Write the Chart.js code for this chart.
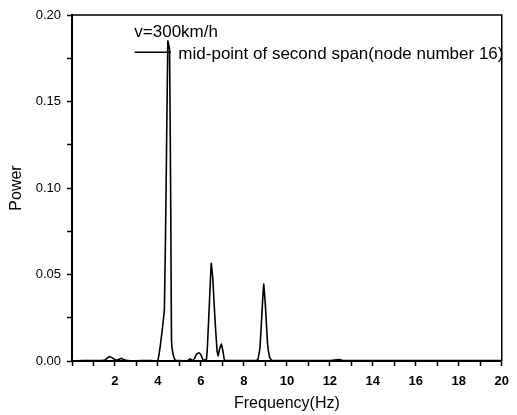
<!DOCTYPE html>
<html>
<head>
<meta charset="utf-8">
<script src="https://cdn.jsdelivr.net/npm/chart.js@4/dist/chart.umd.min.js"></script>
<style>
    html, body { margin: 0; padding: 0; background: #fff; }
    #wrap { width: 517px; height: 415px; }
</style>
</head>
<body>
<div id="wrap"><canvas id="spectrum"></canvas></div>
<script>
// 周波数 (Hz) とパワー
const freq = [0.0, 0.5, 1.0, 1.5, 1.65, 1.77, 1.9, 2.05, 2.2, 2.3, 2.4, 2.6, 3.0, 3.5, 3.9,
    4.0, 4.1, 4.2, 4.3, 4.38, 4.46, 4.54, 4.6, 4.63, 4.7, 4.8, 5.0, 5.4, 5.5, 5.6, 5.7, 5.8,
    5.9, 6.0, 6.1, 6.25, 6.3, 6.4, 6.48, 6.55, 6.65, 6.75, 6.8, 6.87, 6.95, 7.02, 7.1, 7.5,
    8.0, 8.5, 8.65, 8.75, 8.85, 8.92, 9.0, 9.1, 9.2, 9.3, 10, 11, 12, 12.3, 12.45, 12.6, 14,
    16, 18, 20];
const power = [0.0, 0.0003, 0.0002, 0.0004, 0.0018, 0.0025, 0.0016, 0.0004, 0.0010, 0.0016, 0.0008, 0.0002, 0.0001, 0.0003, 0.0001,
    0.0005, 0.008, 0.018, 0.03, 0.10, 0.185, 0.18, 0.08, 0.012, 0.004, 0.0005, 0.0002, 0.0003, 0.0012, 0.0004, 0.0015, 0.0040,
    0.0048, 0.0035, 0.0005, 0.0008, 0.008, 0.035, 0.0565, 0.048, 0.025, 0.006, 0.003, 0.007, 0.0098, 0.006, 0.0005, 0.0002,
    0.0003, 0.0002, 0.0008, 0.008, 0.03, 0.0445, 0.032, 0.010, 0.002, 0.0003, 0.0002, 0.0002, 0.0003, 0.0007, 0.0008, 0.0003, 0.0002,
    0.0002, 0.0003, 0.0002];
const speedLabel = "v=300km/h";
const seriesLabel = "mid-point of second span(node number 16)";
const xTitle = "Frequency(Hz)";
const yTitle = "Power";

const FONT = "'Liberation Sans', Arial, sans-serif";

let points = [];
for (let i = 0; i < freq.length; i++) {
    points.push({ x: freq[i], y: power[i] });
}

// 枠と凡例を描く
const framePlugin = {
    id: "frame",
    afterDraw(chart) {
        const ctx = chart.ctx;
        const a = chart.chartArea;
        ctx.save();
        ctx.strokeStyle = "#000";
        ctx.lineWidth = 1.5;
        ctx.beginPath();
        ctx.moveTo(a.left, a.top);
        ctx.lineTo(a.right, a.top);
        ctx.lineTo(a.right, a.bottom);
        ctx.stroke();

        const x = chart.scales.x;
        const y = chart.scales.y;
        ctx.fillStyle = "#000";
        ctx.font = "17px " + FONT;
        ctx.textBaseline = "middle";
        ctx.fillText(speedLabel, x.getPixelForValue(2.9), y.getPixelForValue(0.190));

        const ly = y.getPixelForValue(0.1785);
        ctx.lineWidth = 1.5;
        ctx.beginPath();
        ctx.moveTo(x.getPixelForValue(2.92), ly);
        ctx.lineTo(x.getPixelForValue(4.6), ly);
        ctx.stroke();
        ctx.fillText(seriesLabel, x.getPixelForValue(4.95), ly + 2);
        ctx.restore();
    }
};

const ctx = document.getElementById("spectrum");
const myChart = new Chart(ctx, {
    type: "line",
    data: {
        datasets: [{
            label: seriesLabel,
            data: points,
            borderColor: "#000",
            borderWidth: 1.6,
            pointRadius: 0,
            tension: 0.1,
            fill: false
        }]
    },
    options: {
        responsive: true,
        maintainAspectRatio: false,
        animation: false,
        layout: { padding: { top: 15, right: 6, left: 0, bottom: 0 } },
        plugins: {
            legend: { display: false },
            tooltip: { enabled: false }
        },
        scales: {
            x: {
                type: "linear",
                min: 0,
                max: 20,
                afterFit(scale) { scale.height = 54; },
                border: { display: true, color: "#000", width: 2 },
                grid: { display: true, drawOnChartArea: false, tickLength: 5, color: "#000", tickWidth: 1.5 },
                ticks: {
                    stepSize: 1,
                    padding: 8,
                    color: "#000",
                    maxRotation: 0,
                    autoSkip: false,
                    font: { family: FONT, size: 13, weight: "bold" },
                    callback: function (v) {
                        return (v === 0 || v % 2 !== 0) ? "" : v;
                    }
                },
                title: {
                    display: true,
                    text: xTitle,
                    color: "#000",
                    font: { family: FONT, size: 16 },
                    padding: { top: 0, bottom: 2 }
                }
            },
            y: {
                min: 0,
                max: 0.2,
                afterFit(scale) { scale.width = 72; },
                border: { display: true, color: "#000", width: 2 },
                grid: { display: true, drawOnChartArea: false, tickLength: 5, color: "#000", tickWidth: 1.5 },
                ticks: {
                    stepSize: 0.025,
                    padding: 6,
                    color: "#000",
                    autoSkip: false,
                    font: { family: FONT, size: 13 },
                    callback: function (v) {
                        return Math.round(v * 1000) % 50 === 0 ? v.toFixed(2) : "";
                    }
                },
                title: {
                    display: true,
                    text: yTitle,
                    color: "#000",
                    font: { family: FONT, size: 16 },
                    padding: { top: 7, bottom: 0 }
                }
            }
        }
    },
    plugins: [framePlugin]
});
</script>
</body>
</html>
